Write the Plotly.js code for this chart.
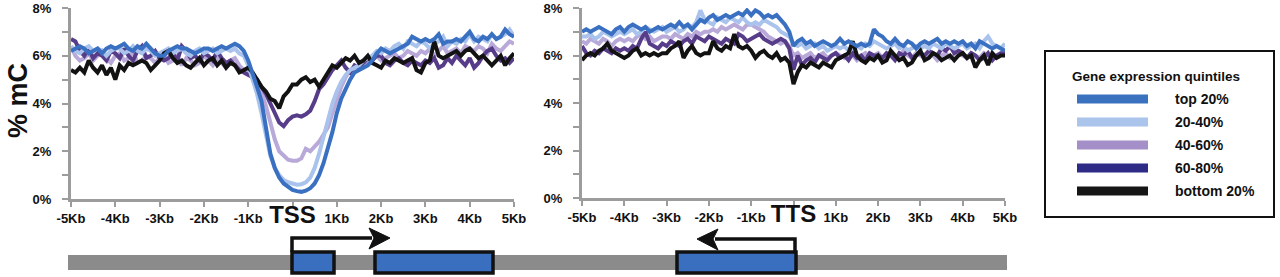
<!DOCTYPE html>
<html>
<head>
<meta charset="utf-8">
<script src="https://cdn.plot.ly/plotly-3.0.1.min.js"></script>
<style>html,body{margin:0;padding:0;background:#fff;}#chart{width:1280px;height:277px;}</style>
</head>
<body>
<div id="chart"></div>
<script>
// ---- data ----
const binsKb = [-5.0,-4.9,-4.8,-4.7,-4.6,-4.5,-4.4,-4.3,-4.2,-4.1,-4.0,-3.9,-3.8,-3.7,-3.6,-3.5,-3.4,-3.3,-3.2,-3.1,-3.0,
-2.9,-2.8,-2.7,-2.6,-2.5,-2.4,-2.3,-2.2,-2.1,-2.0,-1.9,-1.8,-1.7,-1.6,-1.5,-1.4,-1.3,-1.2,-1.1,-1.0,
-0.9,-0.8,-0.7,-0.6,-0.5,-0.4,-0.3,-0.2,-0.1,0.0,0.1,0.2,0.3,0.4,0.5,0.6,0.7,0.8,0.9,1.0,
1.1,1.2,1.3,1.4,1.5,1.6,1.7,1.8,1.9,2.0,2.1,2.2,2.3,2.4,2.5,2.6,2.7,2.8,2.9,3.0,
3.1,3.2,3.3,3.4,3.5,3.6,3.7,3.8,3.9,4.0,4.1,4.2,4.3,4.4,4.5,4.6,4.7,4.8,4.9,5.0];

const quintileNames = ['top 20%','20-40%','40-60%','60-80%','bottom 20%'];

// TSS panel (% mC)
const tssTop20 = [6.2,6.3,6.4,6.3,6.1,6.2,6.3,6.1,6.3,6.4,6.3,
6.4,6.5,6.3,6.2,6.4,6.3,6.5,6.3,6.1,6.0,
6.0,6.2,6.3,6.4,6.3,6.3,6.2,6.1,6.2,6.3,
6.3,6.2,6.3,6.4,6.3,6.4,6.5,6.4,6.2,5.8,
5.3,4.7,4.1,3.1,1.9,1.3,0.9,0.65,0.5,0.38,
0.33,0.3,0.35,0.45,0.65,1.0,1.5,2.1,2.8,3.6,
4.2,4.6,5.0,5.3,5.4,5.5,5.6,5.8,6.1,6.3,
6.2,6.1,6.2,6.3,6.4,6.5,6.8,6.7,6.6,6.7,
6.6,6.7,6.9,6.5,6.6,6.6,6.7,6.6,6.8,7.0,
6.7,6.6,6.8,6.7,6.9,6.7,6.8,7.1,6.9,6.8];
const tss20to40 = [6.4,6.2,6.1,6.3,6.4,6.2,6.3,6.2,6.0,6.2,6.3,
6.3,6.1,6.2,6.4,6.2,6.1,6.3,6.2,6.0,6.1,
6.2,6.3,6.1,6.2,6.3,6.1,6.0,6.2,6.3,6.1,
6.2,6.3,6.1,6.2,6.3,6.2,6.3,6.1,6.0,5.6,
5.0,4.4,3.6,2.7,1.8,1.3,1.0,0.8,0.7,0.65,
0.6,0.62,0.7,0.9,1.3,1.9,2.6,3.3,4.0,4.5,
4.9,5.2,5.4,5.5,5.6,5.8,5.9,6.0,6.2,6.1,
6.3,6.2,6.4,6.5,6.3,6.6,6.5,6.4,6.6,6.5,
6.3,6.5,6.6,6.8,6.4,6.6,6.5,6.7,6.6,6.9,
6.6,6.8,6.7,6.6,6.9,6.7,6.8,6.9,7.1,6.8];
const tss40to60 = [6.4,6.0,5.8,5.9,6.1,5.8,6.0,6.2,5.9,5.7,6.0,
6.1,5.8,5.9,6.2,5.7,5.8,6.0,5.9,5.7,5.9,
6.0,5.7,5.8,6.0,5.6,5.9,5.8,5.6,5.7,6.0,
5.8,5.6,5.9,5.7,5.5,5.8,5.9,5.6,5.4,5.3,
5.2,5.0,4.5,3.9,3.2,2.5,2.0,1.8,1.65,1.6,
1.6,1.7,2.1,2.0,2.2,2.4,2.7,3.0,3.6,4.2,
4.7,5.1,5.4,5.5,5.6,5.8,5.7,5.9,6.0,5.8,
5.9,6.0,6.1,5.9,6.0,6.2,6.1,6.0,6.2,6.1,
6.3,6.0,6.2,6.4,6.1,6.2,6.3,6.1,6.4,6.3,
6.2,6.4,6.3,6.1,6.5,6.3,6.2,6.4,6.6,6.5];
const tss60to80 = [6.7,6.6,6.2,6.0,6.3,5.9,6.1,6.0,5.8,6.2,6.1,
5.9,6.3,6.0,5.8,6.2,6.4,5.9,6.0,6.2,5.9,
5.8,5.9,6.1,5.8,6.4,6.2,5.9,6.0,5.8,6.1,
6.0,5.8,6.2,5.9,5.7,5.8,5.6,5.4,5.3,5.2,
5.1,5.0,4.7,4.4,4.0,3.6,3.2,3.05,3.3,3.45,
3.5,3.45,3.55,3.7,4.1,4.6,4.8,5.1,5.4,5.6,
5.8,5.5,5.3,5.6,5.5,5.7,5.9,5.8,6.0,6.0,
5.7,5.6,5.8,5.9,5.7,5.6,5.8,5.7,5.6,5.8,
5.7,5.9,5.5,5.6,5.9,5.7,6.0,5.8,5.6,5.9,
5.5,5.7,6.0,6.2,6.3,6.0,5.8,5.9,5.7,5.9];
const tssBottom20 = [5.4,5.3,5.5,5.3,5.8,5.5,5.3,5.6,5.2,5.5,5.0,
5.6,5.4,5.7,5.6,5.7,5.8,5.7,5.4,5.6,5.8,
6.1,6.2,5.9,5.7,5.8,5.6,5.5,5.7,5.9,5.6,
5.8,5.9,5.6,5.8,5.5,5.7,5.6,5.3,5.4,5.5,
5.3,5.0,4.7,4.5,4.2,4.1,3.8,4.3,4.5,4.8,
4.8,5.0,5.1,4.9,5.0,4.7,5.0,5.3,5.6,5.5,
5.7,5.9,5.8,6.0,5.7,5.8,6.0,5.7,5.6,5.5,
5.8,5.7,5.9,5.8,5.7,5.8,5.9,5.4,5.3,5.7,
5.8,6.6,6.0,5.9,6.0,6.1,6.2,6.0,6.2,6.3,
6.1,5.9,6.0,5.8,5.6,5.8,6.0,5.6,5.9,6.1];

// TTS panel (% mC)
const ttsTop20 = [7.0,7.1,7.0,7.1,7.2,7.1,7.0,6.9,7.1,7.2,7.0,
7.2,7.3,7.2,7.1,7.2,7.0,7.1,7.2,7.1,7.2,
7.3,7.2,7.4,7.2,7.3,7.1,7.3,7.5,7.4,7.6,
7.7,7.5,7.6,7.7,7.6,7.7,7.8,7.7,7.9,7.7,
7.9,7.8,7.6,7.7,7.6,7.7,7.5,7.3,7.0,6.4,
6.6,6.7,6.5,6.6,6.4,6.5,6.6,6.5,6.4,6.5,
6.7,6.5,6.6,6.5,6.4,6.5,6.4,6.5,7.1,6.9,
6.8,6.6,6.5,6.7,6.5,6.4,6.6,6.5,6.3,6.5,
6.6,6.5,6.6,6.7,6.5,6.6,6.5,6.6,6.5,6.6,
6.4,6.5,6.3,6.6,6.5,6.4,6.3,6.4,6.3,6.2];
const tts20to40 = [6.8,6.8,6.9,6.7,6.8,7.0,6.9,6.8,6.9,7.0,6.9,
7.0,7.1,6.9,7.0,7.2,7.1,7.0,7.1,7.2,7.0,
7.1,7.2,7.0,7.1,7.3,7.2,7.4,7.9,7.5,7.4,
7.3,7.6,7.5,7.4,7.6,7.5,7.4,7.6,7.4,7.3,
7.4,7.3,7.5,7.4,7.3,7.2,7.0,6.9,6.8,6.5,
6.4,6.5,6.3,6.4,6.5,6.3,6.4,6.2,6.3,6.4,
6.3,6.4,6.2,6.3,6.4,6.3,6.5,6.4,6.6,6.5,
6.4,6.3,6.4,6.5,6.3,6.4,6.2,6.3,6.4,6.3,
6.4,6.3,6.5,6.4,6.3,6.5,6.4,6.3,6.4,6.5,
6.3,6.4,6.5,6.3,6.6,6.8,6.5,6.4,6.3,6.5];
const tts40to60 = [6.6,6.5,6.7,6.6,6.5,6.7,6.6,6.4,6.6,6.7,6.6,
6.7,6.6,6.8,6.9,6.7,6.8,6.6,6.7,6.8,6.8,
6.7,6.9,6.8,6.7,6.9,6.8,7.0,6.9,7.0,7.0,
7.1,7.0,7.2,7.1,7.2,7.3,7.2,7.1,7.3,7.3,
7.2,7.1,7.0,6.8,6.7,6.6,6.5,6.6,6.4,6.0,
6.1,5.9,6.0,6.1,5.9,6.0,6.1,5.9,6.0,6.1,
6.0,5.9,6.1,6.0,5.8,6.0,6.1,5.9,6.0,6.1,
5.9,6.0,6.1,5.9,6.0,6.2,6.0,5.9,6.1,6.0,
5.9,6.1,6.0,5.8,6.0,6.1,5.9,6.0,6.1,6.0,
5.9,6.1,6.0,5.9,6.1,6.0,5.8,6.0,6.1,6.0];
const tts60to80 = [6.4,6.1,6.0,6.2,6.1,6.3,6.2,6.1,6.3,6.2,6.3,
6.2,6.4,6.3,6.7,7.0,6.5,6.4,6.3,6.5,6.4,
6.6,6.5,6.4,6.6,6.7,6.5,6.8,6.7,6.6,6.8,
6.7,6.6,6.5,6.7,6.6,6.5,6.9,6.8,6.6,6.7,
6.8,6.9,6.7,6.6,6.5,6.6,6.7,6.6,6.3,5.4,
6.0,5.6,5.8,5.9,5.7,6.0,5.9,5.8,6.0,6.1,
5.9,6.0,5.8,6.1,5.9,6.0,5.8,6.1,6.0,6.0,
5.9,6.1,6.0,5.8,6.1,6.0,6.2,5.9,6.0,6.1,
6.0,6.2,6.1,6.0,6.3,6.2,6.4,6.1,6.2,6.1,
5.9,6.1,6.0,5.8,5.9,6.1,5.8,6.0,6.1,6.1];
const ttsBottom20 = [5.8,6.0,6.1,6.0,6.2,6.3,6.5,6.2,6.1,6.0,5.9,
6.0,6.2,6.3,6.0,6.1,6.0,6.1,6.0,6.1,6.1,
6.3,6.4,6.6,5.9,6.2,6.4,6.1,6.0,6.1,6.1,
6.6,6.3,6.2,6.4,6.3,6.9,6.4,6.3,6.4,6.2,
5.9,6.1,6.2,6.0,5.9,6.1,5.8,5.9,5.7,4.8,
5.3,5.6,5.5,5.7,5.6,5.5,5.7,5.6,5.5,5.8,
5.9,6.0,6.1,6.6,6.0,5.8,5.7,5.9,5.8,6.0,
5.7,5.8,6.2,6.0,5.8,5.9,5.6,5.7,6.0,6.2,
5.8,5.9,6.1,6.0,5.8,5.9,6.0,5.8,6.0,6.1,
5.9,6.0,5.5,5.8,6.0,5.6,6.1,5.9,6.0,6.0];

// ticks
const xTickVals = [-5,-4,-3,-2,-1,0,1,2,3,4,5];
const tssTickText = ['-5Kb','-4Kb','-3Kb','-2Kb','-1Kb','<span style="font-size:24px">TSS</span>','1Kb','2Kb','3Kb','4Kb','5Kb'];
const ttsTickText = ['-5Kb','-4Kb','-3Kb','-2Kb','-1Kb','<span style="font-size:24px">TTS</span>','1Kb','2Kb','3Kb','4Kb','5Kb'];
const yTickVals = [0,2,4,6,8];
const yMinorVals = [1,3,5,7];
const yTickText = ['0%','2%','4%','6%','8%'];
const yTitle = '% mC';

// ---- styles ----
const lineColors = ['#3a70c1','#a9c3ec','#b8a9d9','#573d89','#121212'];
const swatchColors = ['#3b72c0','#aac4ec','#a58fc8','#2d2b85','#151515'];
const drawOrder = [2,3,1,4,0];

const W = 1280, H = 277;
const px = v => v / W;
const py = v => 1 - v / H;
const FONT = 'Liberation Sans, Arial, sans-serif';

const tssSeries = [tssTop20, tss20to40, tss40to60, tss60to80, tssBottom20];
const ttsSeries = [ttsTop20, tts20to40, tts40to60, tts60to80, ttsBottom20];

const traces = [];
drawOrder.forEach(i => {
  traces.push({x: binsKb, y: tssSeries[i], type:'scatter', mode:'lines', name: quintileNames[i],
    xaxis:'x', yaxis:'y', showlegend:false, line:{color: lineColors[i], width:4}});
});
drawOrder.forEach(i => {
  traces.push({x: binsKb, y: ttsSeries[i], type:'scatter', mode:'lines', name: quintileNames[i],
    xaxis:'x2', yaxis:'y2', showlegend:false, line:{color: lineColors[i], width:4}});
});

const tickFont = {family:FONT, size:13, color:'#111', weight:'bold'};
const axisGray = '#9c9c9c';

function xAxis(domain, ticktext, anchor){
  return {domain, anchor, range:[-5,5], tickmode:'array', tickvals:xTickVals, ticktext,
    showline:true, linecolor:axisGray, linewidth:3, ticks:'outside', ticklen:5, tickwidth:2, tickcolor:axisGray,
    showgrid:false, zeroline:false, tickfont:tickFont, fixedrange:true, automargin:false, ticklabeloverflow:'allow'};
}
function yAxis(domain, anchor){
  return {domain, anchor, range:[0,8], tickmode:'array', tickvals:yTickVals, ticktext:yTickText,
    showline:true, linecolor:axisGray, linewidth:3, ticks:'outside', ticklen:6, tickwidth:2, tickcolor:axisGray,
    ticklabelstandoff:8,
    minor:{tickmode:'array', tickvals:yMinorVals, ticks:'outside', ticklen:6, tickwidth:2, tickcolor:axisGray, showgrid:false},
    showgrid:false, zeroline:false, tickfont:tickFont, fixedrange:true, automargin:false, ticklabeloverflow:'allow'};
}

const shapes = [];
const annotations = [];

// y-axis title
annotations.push({xref:'paper', yref:'paper', x:px(18), y:py(101), text:yTitle, textangle:-90, showarrow:false,
  borderpad:0, xanchor:'center', yanchor:'middle', font:{family:FONT, size:27, color:'#111', weight:'bold'}});

// gene diagram
shapes.push({type:'rect', xref:'paper', yref:'paper', x0:px(68), x1:px(1007), y0:py(270), y1:py(255), fillcolor:'#8b8b8b', line:{width:0}, layer:'above'});
[[292,334],[375,493],[677,796]].forEach(([a,b]) => {
  shapes.push({type:'rect', xref:'paper', yref:'paper', x0:px(a), x1:px(b), y0:py(273), y1:py(252), fillcolor:'#3a6fc0', line:{color:'#111', width:3.5}, layer:'above'});
});
shapes.push({type:'path', xref:'paper', yref:'paper', layer:'above',
  path:`M${px(292)},${py(252)} L${px(292)},${py(238)} L${px(372)},${py(238)}`, line:{color:'#111', width:3.5}});
shapes.push({type:'path', xref:'paper', yref:'paper', layer:'above', fillcolor:'#111',
  path:`M${px(369)},${py(228)} L${px(390)},${py(238)} L${px(369)},${py(249)} L${px(374)},${py(238)} Z`, line:{color:'#111', width:1}});
shapes.push({type:'path', xref:'paper', yref:'paper', layer:'above',
  path:`M${px(795)},${py(252)} L${px(795)},${py(239)} L${px(715)},${py(239)}`, line:{color:'#111', width:3.5}});
shapes.push({type:'path', xref:'paper', yref:'paper', layer:'above', fillcolor:'#111',
  path:`M${px(718)},${py(229)} L${px(697)},${py(239)} L${px(718)},${py(250)} L${px(713)},${py(239)} Z`, line:{color:'#111', width:1}});

// custom legend
shapes.push({type:'rect', xref:'paper', yref:'paper', x0:px(1045), x1:px(1274), y0:py(217), y1:py(51), fillcolor:'#fff', line:{color:'#111', width:2}});
annotations.push({xref:'paper', yref:'paper', x:px(1156), y:py(76), text:'Gene expression quintiles', showarrow:false,
  xanchor:'center', yanchor:'middle', font:{family:FONT, size:13.5, color:'#111', weight:'bold'}});
const swatchY = [99, 122, 145, 168, 191];
quintileNames.forEach((nm, i) => {
  shapes.push({type:'rect', xref:'paper', yref:'paper', x0:px(1077), x1:px(1148), y0:py(swatchY[i]+4.5), y1:py(swatchY[i]-4.5), fillcolor:swatchColors[i], line:{width:0}});
  annotations.push({xref:'paper', yref:'paper', x:px(1173), y:py(swatchY[i]), text:nm, showarrow:false,
    xanchor:'left', yanchor:'middle', font:{family:FONT, size:14, color:'#111', weight:'bold'}});
});

const layout = {
  width:W, height:H, margin:{l:0,r:0,t:0,b:0}, paper_bgcolor:'#fff', plot_bgcolor:'rgba(0,0,0,0)',
  showlegend:false,
  xaxis: xAxis([px(71), px(514)], tssTickText, 'y'),
  yaxis: yAxis([py(199), py(8)], 'x'),
  xaxis2: xAxis([px(582), px(1005)], ttsTickText, 'y2'),
  yaxis2: yAxis([py(198), py(8)], 'x2'),
  shapes, annotations
};

Plotly.newPlot('chart', traces, layout, {staticPlot:true, displayModeBar:false});
</script>
</body>
</html>
